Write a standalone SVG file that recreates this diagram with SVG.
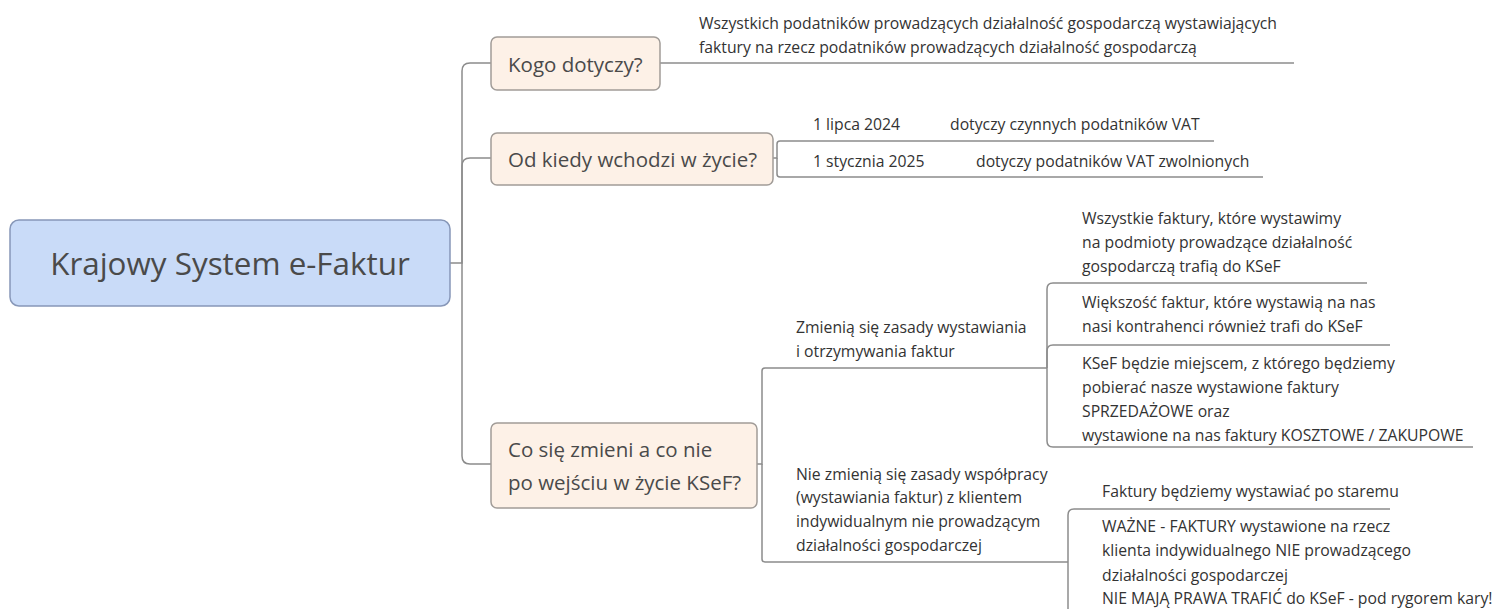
<svg xmlns="http://www.w3.org/2000/svg" width="1501" height="609" viewBox="0 0 1501 609">
<style>
.bg{fill:#ffffff}
.root{fill:#c9dbf8;stroke:#8797b8;stroke-width:1.5}
.topic{fill:#fdf1e7;stroke:#a19c98;stroke-width:1.5}
.conn{fill:none;stroke:#8c8c8c;stroke-width:1.5}
.t-root{font-family:"Open Sans","Liberation Sans",sans-serif;font-size:31.4px;fill:#4a4a4a}
.t-topic{font-family:"Open Sans","Liberation Sans",sans-serif;font-size:20.5px;fill:#4a4a4a}
.t-sub{font-family:"Open Sans","Liberation Sans",sans-serif;font-size:15.75px;fill:#333333}
</style>
<rect class="bg" x="0" y="0" width="1501" height="609"/>
<g id="connectors">
  <path class="conn" d="M450 263 H462 V71 Q462 63 470 63 H491"/>
  <path class="conn" d="M462 263 V166 Q462 158 470 158 H491"/>
  <path class="conn" d="M462 263 V456 Q462 464 470 464 H491"/>
  <path class="conn" d="M660 63 H1294"/>
  <path class="conn" d="M773 158 H777 V144 Q777 141 780 141 H1214"/>
  <path class="conn" d="M777 158 V174 Q777 177 780 177 H1263"/>
  <path class="conn" d="M757 464 H762 V371 Q762 368 765 368 H1047"/>
  <path class="conn" d="M762 464 V559 Q762 562 765 562 H1068"/>
  <path class="conn" d="M1047 368 V289 Q1047 283 1053 283 H1367"/>
  <path class="conn" d="M1047 368 V351 Q1047 345 1053 345 H1390"/>
  <path class="conn" d="M1047 368 V441 Q1047 447 1053 447 H1473"/>
  <path class="conn" d="M1068 562 V515 Q1068 509 1074 509 H1390"/>
  <path class="conn" d="M1068 562 V615"/>
</g>
<g id="root">
  <rect class="root" x="10" y="220" width="440" height="86" rx="9"/>
  <text class="t-root" x="230" y="275" text-anchor="middle">Krajowy System e-Faktur</text>
</g>
<g id="kogo">
  <rect class="topic" x="491" y="37" width="169" height="53" rx="6"/>
  <text class="t-topic" x="508" y="72">Kogo dotyczy?</text>
</g>
<g id="kogo-answer">
  <text class="t-sub" x="699" y="29">Wszystkich podatników prowadzących działalność gospodarczą wystawiających</text>
  <text class="t-sub" x="699" y="53">faktury na rzecz podatników prowadzących działalność gospodarczą</text>
</g>
<g id="od-kiedy">
  <rect class="topic" x="491" y="133" width="282" height="52" rx="6"/>
  <text class="t-topic" x="508" y="167">Od kiedy wchodzi w życie?</text>
</g>
<g id="date-2024">
  <text class="t-sub" x="813" y="130">1 lipca 2024</text>
</g>
<g id="date-2024-note">
  <text class="t-sub" x="950" y="130">dotyczy czynnych podatników VAT</text>
</g>
<g id="date-2025">
  <text class="t-sub" x="813" y="167">1 stycznia 2025</text>
</g>
<g id="date-2025-note">
  <text class="t-sub" x="976" y="167">dotyczy podatników VAT zwolnionych</text>
</g>
<g id="co-sie-zmieni">
  <rect class="topic" x="491" y="423" width="266" height="85" rx="6"/>
  <text class="t-topic" x="508" y="457">Co się zmieni a co nie</text>
  <text class="t-topic" x="508" y="490">po wejściu w życie KSeF?</text>
</g>
<g id="zmienia">
  <text class="t-sub" x="796" y="333">Zmienią się zasady wystawiania</text>
  <text class="t-sub" x="796" y="357">i otrzymywania faktur</text>
</g>
<g id="wszystkie-faktury">
  <text class="t-sub" x="1082" y="224">Wszystkie faktury, które wystawimy</text>
  <text class="t-sub" x="1082" y="248">na podmioty prowadzące działalność</text>
  <text class="t-sub" x="1082" y="272">gospodarczą trafią do KSeF</text>
</g>
<g id="wiekszosc">
  <text class="t-sub" x="1082" y="308">Większość faktur, które wystawią na nas</text>
  <text class="t-sub" x="1082" y="332">nasi kontrahenci również trafi do KSeF</text>
</g>
<g id="ksef-miejsce">
  <text class="t-sub" x="1082" y="369">KSeF będzie miejscem, z którego będziemy</text>
  <text class="t-sub" x="1082" y="393">pobierać nasze wystawione faktury</text>
  <text class="t-sub" x="1082" y="417">SPRZEDAŻOWE oraz</text>
  <text class="t-sub" x="1082" y="441">wystawione na nas faktury KOSZTOWE / ZAKUPOWE</text>
</g>
<g id="nie-zmienia">
  <text class="t-sub" x="796" y="480">Nie zmienią się zasady współpracy</text>
  <text class="t-sub" x="796" y="503">(wystawiania faktur) z klientem</text>
  <text class="t-sub" x="796" y="527">indywidualnym nie prowadzącym</text>
  <text class="t-sub" x="796" y="551">działalności gospodarczej</text>
</g>
<g id="po-staremu">
  <text class="t-sub" x="1102" y="497">Faktury będziemy wystawiać po staremu</text>
</g>
<g id="wazne">
  <text class="t-sub" x="1102" y="532">WAŻNE - FAKTURY wystawione na rzecz</text>
  <text class="t-sub" x="1102" y="556">klienta indywidualnego NIE prowadzącego</text>
  <text class="t-sub" x="1102" y="581">działalności gospodarczej</text>
  <text class="t-sub" x="1102" y="604">NIE MAJĄ PRAWA TRAFIĆ do KSeF - pod rygorem kary!</text>
</g>
</svg>
